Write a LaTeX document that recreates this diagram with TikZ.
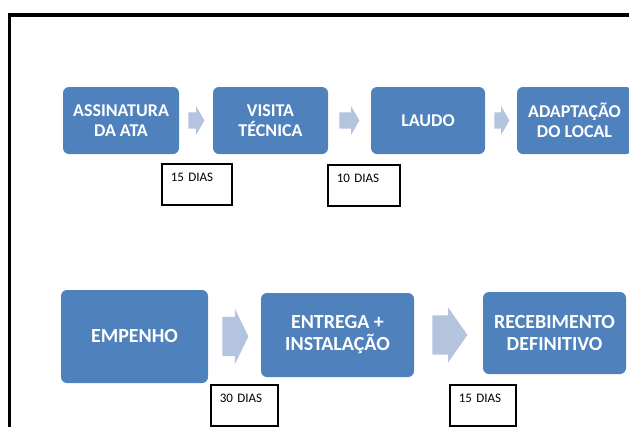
\documentclass[tikz,border=0pt]{standalone}
\usepackage{fontspec}
\setmainfont{Carlito}
\usetikzlibrary{positioning, shapes.arrows}
\definecolor{stageblue}{RGB}{79,129,189}
\definecolor{flowblue}{RGB}{180,195,222}
\tikzset{node distance=150pt, % Distance between the centres of two stages
x=1pt, y=-1pt, % One unit is one pixel of the page, y going down
stage/.style={ % Sets the properties for each blue stage
fill=stageblue, text=white, rounded corners=6pt,
align=center, inner sep=2pt,
minimum width=115pt, minimum height=67pt,
font=\fontsize{18}{20}\selectfont\bfseries},
bigstage/.style={ % Bottom row stages are larger
stage, font=\fontsize{20}{22}\selectfont\bfseries},
flow/.style={ % Light block arrow between two stages
single arrow, fill=flowblue, anchor=tail,
inner xsep=0pt, inner ysep=8pt,
single arrow head extend=6pt, single arrow tip angle=120},
bigflow/.style={ % Bottom row block arrows
flow, inner ysep=19.5pt, single arrow head extend=8pt},
days/.style={ % Small boxes with the number of days
draw, line width=1.6pt, fill=white, anchor=north west,
align=left, text width=#1, inner xsep=9pt, inner ysep=0pt,
text height=18pt, text depth=23pt,
font=\fontsize{13}{15}\selectfont}}

\begin{document}
\begin{tikzpicture}

    \useasboundingbox (0,0) rectangle (629,426);
    \clip (0,0) rectangle (629,426);

    \draw[line width=3.5pt] (9.5,440) -- (9.5,15) -- (640,15);

    \node[stage, minimum width=116pt] (ata) at (121,120.5) {ASSINATURA\\DA ATA};
    \node[stage, right of=ata, xshift=-0.5pt] (visita) {VISITA\\TÉCNICA};
    \node[stage, right of=visita, xshift=7.5pt, minimum width=114pt] (laudo) {LAUDO};
    \node[stage, right of=laudo, xshift=-3.5pt] (adaptacao) {ADAPTAÇÃO\\DO LOCAL};

    \node[bigstage, minimum width=147pt, minimum height=93pt] (empenho) at (134.5,336.5) {EMPENHO};
    \node[bigstage, right of=empenho, xshift=53pt, yshift=1.5pt, minimum width=153pt, minimum height=84pt] (entrega) {ENTREGA +\\INSTALAÇÃO};
    \node[bigstage, right of=entrega, xshift=67pt, yshift=2pt, minimum width=143pt, minimum height=82pt] (recebimento) {RECEBIMENTO\\DEFINITIVO};

    \node[flow, minimum height=16pt] (ata-visita) at ([xshift=9pt]ata.east) {};
    \node[flow, minimum height=20pt] (visita-laudo) at ([xshift=11pt]visita.east) {};
    \node[flow, minimum height=15pt] (laudo-adaptacao) at ([xshift=9pt]laudo.east) {};
    \node[bigflow, minimum height=26pt, single arrow tip angle=128] (empenho-entrega) at ([xshift=14pt]empenho.east) {};
    \node[bigflow, minimum height=35pt, single arrow tip angle=110] (entrega-recebimento) at ([xshift=18pt]entrega.east) {};

    \node[days=52pt] (d1) at (161,163) {15 DIAS};
    \node[days=54pt] (d2) at (327,164) {10 DIAS};
    \node[days=49pt] (d3) at (210,384) {30 DIAS};
    \node[days=48pt] (d4) at (449,384) {15 DIAS};

\end{tikzpicture}
\end{document}
